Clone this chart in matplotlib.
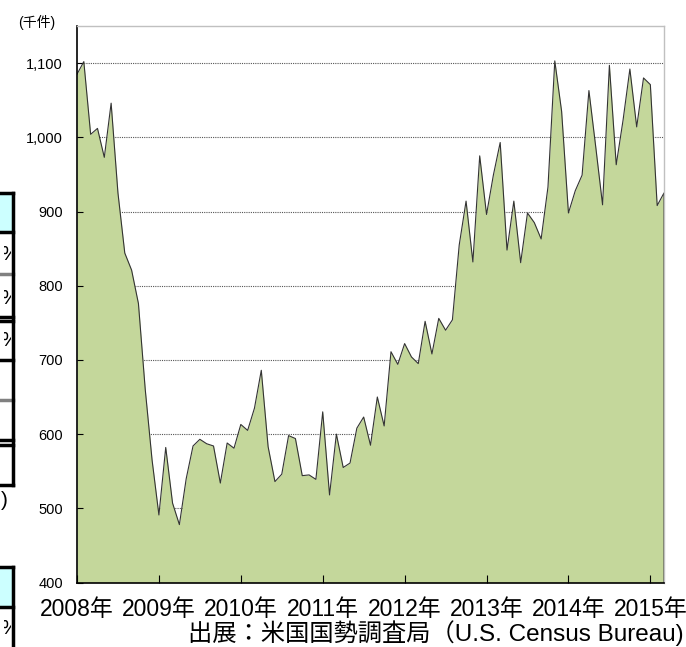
import numpy as np
import matplotlib.pyplot as plt
from matplotlib.lines import Line2D
from matplotlib.patches import Rectangle
from matplotlib.transforms import Bbox

# monthly values (thousand units), Jan 2008 - Mar 2015
values = [1085, 1102, 1004, 1012, 973, 1046, 925, 844, 821, 776, 660, 565,
          491, 582, 507, 478, 540, 584, 593, 587, 584, 534, 588, 581,
          613, 605, 635, 686, 583, 536, 546, 598, 594, 544, 545, 539,
          630, 518, 600, 555, 561, 608, 623, 585, 650, 611, 711, 694,
          722, 704, 695, 752, 708, 756, 740, 754, 855, 914, 832, 975,
          896, 949, 993, 848, 914, 831, 898, 885, 863, 933, 1103, 1035,
          898, 928, 949, 1063, 987, 909, 1097, 963, 1023, 1092, 1014, 1080,
          1071, 908, 925]
years = ['2008年', '2009年', '2010年', '2011年', '2012年', '2013年', '2014年', '2015年']
y_ticks = [400, 500, 600, 700, 800, 900, 1000, 1100]
unit = '(千件)'
source = '出展：米国国勢調査局（U.S. Census Bureau)'

fonts = ['Liberation Sans', 'Noto Sans CJK JP', 'DejaVu Sans']
plt.rcParams['font.family'] = fonts

months = np.arange(len(values))
ymin, ymax = 400, 1150

fig = plt.figure(figsize=(6.86, 6.47), dpi=100)
ax = fig.add_axes([77 / 686, 64.5 / 647, 587 / 686, 556.5 / 647])

# grid behind the area
for v in y_ticks[1:]:
    ax.axhline(v, color='#555555', lw=0.8, ls=(0, (1, 1)), zorder=0.5)

ax.fill_between(months, values, ymin, color='#c4d79b', lw=0, zorder=1)
ax.plot(list(months) + [months[-1]], values + [ymin], color='#333333', lw=0.8, zorder=2)

ax.set_xlim(0, months[-1])
ax.set_ylim(ymin, ymax)
ax.set_yticks(y_ticks)
ax.set_yticklabels([f'{v:,}' for v in y_ticks], fontsize=10.5)
ax.set_xticks(np.arange(len(years)) * 12)
ax.set_xticklabels(years, fontsize=16.5)
ax.tick_params(axis='y', direction='in', length=4, width=0.8, pad=10)
ax.tick_params(axis='x', direction='in', length=6, width=0.8, pad=11)

for s in ['left', 'bottom']:
    ax.spines[s].set_color('black')
    ax.spines[s].set_linewidth(1.2)
for s in ['top', 'right']:
    ax.spines[s].set_color('#c0c0c0')
    ax.spines[s].set_linewidth(1.0)

fig.text(18 / 686, 1 - 22 / 647, unit, fontsize=10, va='center', ha='left')
fig.text(684 / 686, 1 - 633 / 647, source, fontsize=17.5, va='center', ha='right')

# fragments of the neighbouring table cut off at the left edge
def hline(y, color='black', lw=2.5):
    fig.add_artist(Line2D([0, 13 / 686], [1 - y / 647] * 2, color=color, lw=lw))

fig.add_artist(Rectangle((0, 1 - 232 / 647), 12 / 686, 38 / 647, color='#ccffff', lw=0))
fig.add_artist(Rectangle((0, 1 - 607 / 647), 12 / 686, 40 / 647, color='#ccffff', lw=0))
for y in [193, 232, 317, 321, 360, 440, 445, 485, 567, 607]:
    hline(y)
for y in [274, 400]:
    hline(y, color='#808080', lw=2.5)
fig.add_artist(Line2D([12.5 / 686] * 2, [1 - 193 / 647, 1 - 485 / 647], color='black', lw=2.5))
fig.add_artist(Line2D([12.5 / 686] * 2, [1 - 567 / 647, 0], color='black', lw=2.5))

# only the right part of each percent sign shows
clip = Bbox.from_extents(4, 0, 11, 647)
for y in [255, 298, 341, 628]:
    t = fig.text(0.5 / 686, 1 - y / 647, '%', fontsize=15, va='center', ha='left')
    t.set_clip_box(clip)
    t.set_clip_on(True)
fig.text(0.5 / 686, 1 - 500 / 647, ')', fontsize=15, va='center', ha='left')

fig.savefig('out.png', dpi=100)
